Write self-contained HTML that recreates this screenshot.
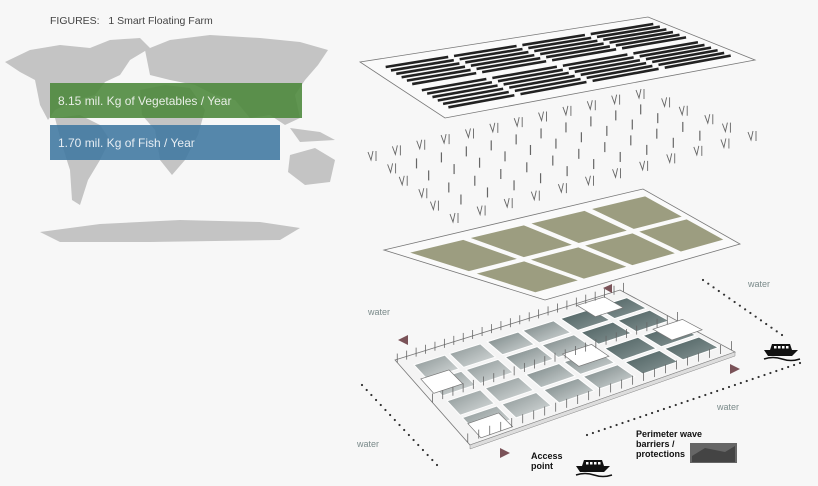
<!DOCTYPE html>
<html><head><meta charset="utf-8"><style>
html,body{margin:0;padding:0;background:#f7f7f7;}
svg{display:block}
text{font-family:"Liberation Sans",Arial,sans-serif}
</style></head><body>
<svg id="s" width="818" height="486" viewBox="0 0 818 486" xmlns="http://www.w3.org/2000/svg">
<defs>
<linearGradient id="g1" x1="0" y1="0" x2="1" y2="1"><stop offset="0" stop-color="#6f7c7c"/><stop offset="1" stop-color="#d5dada"/></linearGradient>
<linearGradient id="g2" x1="0" y1="0" x2="1" y2="1"><stop offset="0" stop-color="#4a5e5e"/><stop offset="1" stop-color="#8a9898"/></linearGradient>
</defs>
<rect width="818" height="486" fill="#f7f7f7"/>
<g fill="#c4c4c4">
<path d="M5,62 L30,50 L60,45 L90,48 L110,40 L140,38 L150,48 L130,60 L120,75 L105,82 L95,95 L75,100 L55,110 L48,120 L40,105 L35,80 L20,72 Z"/>
<path d="M55,118 L80,115 L100,125 L110,140 L100,160 L88,180 L80,205 L72,200 L70,170 L62,145 Z"/>
<path d="M145,50 L170,40 L210,35 L260,38 L300,42 L328,50 L318,65 L305,80 L295,95 L300,118 L285,125 L270,115 L250,118 L235,100 L215,95 L195,85 L170,80 L150,75 Z"/>
<path d="M140,90 L165,85 L190,88 L205,110 L198,135 L185,160 L172,175 L160,160 L155,130 L142,115 Z"/>
<path d="M290,155 L315,148 L335,160 L330,182 L305,185 L288,172 Z"/>
<path d="M290,128 L320,132 L335,140 L300,142 Z"/>
<path d="M40,232 L100,224 L180,220 L260,222 L300,228 L280,240 L150,242 L60,242 Z"/>
</g>
<rect x="50" y="83" width="252" height="35" fill="#4f8a3e" opacity="0.9"/>
<rect x="50" y="125" width="230" height="35" fill="#3f77a0" opacity="0.88"/>
<text x="58" y="105" font-size="12" fill="#e8eee6">8.15 mil. Kg of Vegetables / Year</text>
<text x="58" y="147" font-size="12" fill="#e6edf3">1.70 mil. Kg of Fish / Year</text>
<text x="50" y="24" font-size="10.5" fill="#444">FIGURES:&#160;&#160;&#160;1 Smart Floating Farm</text>
<g id="dyn"></g>
<g font-size="9" fill="#7a8a8a">
<text x="368" y="315">water</text><text x="748" y="287">water</text>
<text x="717" y="410">water</text><text x="357" y="447">water</text>
</g>
<g fill="#7a5258">
<path d="M398,340 L408,335 L408,345 Z"/><path d="M603,288 L612,284 L612,293 Z"/>
<path d="M740,369 L730,364 L730,374 Z"/><path d="M510,453 L500,448 L500,458 Z"/>
</g>
<g font-size="9" font-weight="bold" fill="#111">
<text x="531" y="459">Access</text><text x="531" y="469">point</text>
<text x="636" y="437">Perimeter wave</text><text x="636" y="447">barriers /</text><text x="636" y="457">protections</text>
</g>
<rect x="690" y="443" width="47" height="20" fill="#666"/>
<path d="M692,456 L705,448 L725,452 L735,446 L735,462 L692,462Z" fill="#444"/>
</svg>
<script>
const NS="http://www.w3.org/2000/svg",G=document.getElementById("dyn");
function el(t,a){const e=document.createElementNS(NS,t);for(const k in a)e.setAttribute(k,a[k]);G.appendChild(e);return e;}
function Q(L,T,R,B){return (u,v)=>[L[0]*(1-u)*(1-v)+T[0]*u*(1-v)+R[0]*u*v+B[0]*(1-u)*v, L[1]*(1-u)*(1-v)+T[1]*u*(1-v)+R[1]*u*v+B[1]*(1-u)*v];}
function poly(f,u0,v0,u1,v1,a){const p=[f(u0,v0),f(u1,v0),f(u1,v1),f(u0,v1)].map(q=>q.join(",")).join(" ");a.points=p;return el("polygon",a);}
function dots(x0,y0,x1,y1,n){for(let i=0;i<=n;i++)el("circle",{cx:x0+(x1-x0)*i/n,cy:y0+(y1-y0)*i/n,r:1.1,fill:"#333"});}
dots(362,385,437,465,16);dots(703,280,782,335,15);dots(587,435,800,363,36);
let f=Q([360,62],[648,17],[755,60],[445,118]);
poly(f,0,0,1,1,{fill:"#fafafa",stroke:"#777","stroke-width":0.8});
for(let c=0;c<4;c++)for(let r=0;r<2;r++){const u0=0.05+c*0.235,u1=u0+0.215,v0=0.1+r*0.42,v1=v0+0.37;
for(let k=0;k<6;k++){const v=v0+(v1-v0)*(k+0.5)/6;const a=f(u0,v),b=f(u1,v);el("line",{x1:a[0],y1:a[1],x2:b[0],y2:b[1],stroke:"#222","stroke-width":2.6});}}
let h=Q([372,160],[640,98],[748,140],[450,222]);
for(let i=0;i<12;i++)for(let j=0;j<6;j++){const p=h(i/11,j/5);const x=p[0]+(j%2)*4,y=p[1];
if(j==0||j==5||i==0||i==11){el("path",{d:`M${x-4},${y-8} L${x-1},${y} L${x+1},${y-9} M${x+4},${y-9} L${x+4},${y+1}`,stroke:"#666","stroke-width":0.9,fill:"none"});}
else el("line",{x1:x,y1:y-8,x2:x,y2:y+2,stroke:"#666","stroke-width":1.2});}
let g=Q([384,250],[643,189],[740,244],[545,300]);
poly(g,0,0,1,1,{fill:"#fafafa",stroke:"#777","stroke-width":0.8});
for(let c=0;c<4;c++)for(let r=0;r<2;r++){const u0=0.04+c*0.24,v0=0.1+r*0.42;poly(g,u0,v0,u0+0.21,v0+0.37,{fill:"#9c9d80"});}
let p=Q([395,360],[620,290],[735,352],[470,445]);
poly(p,0,0,1,1,{fill:"#f4f4f4",stroke:"#777","stroke-width":0.8});
const e1=p(0,1),e2=p(1,1);el("polygon",{points:`${e1[0]},${e1[1]} ${e2[0]},${e2[1]} ${e2[0]},${e2[1]+4} ${e1[0]},${e1[1]+4}`,fill:"#ddd",stroke:"#888","stroke-width":0.5});
for(let c=0;c<6;c++)for(let r=0;r<4;r++){const u0=0.05+c*0.155+(c>>1)*0.01,v0=0.1+r*0.2+(r>>1)*0.03;
const shade=c<4?"url(#g1)":"url(#g2)";
poly(p,u0,v0,u0+0.135,v0+0.17,{fill:shade,stroke:"#fff","stroke-width":1,opacity:c<2?0.8:(c<4?0.95:1)});}
[[0.03,0.25],[0.05,0.8],[0.55,0.45],[0.8,0.02],[0.9,0.5]].forEach(b=>{
poly(p,b[0],b[1],b[0]+0.12,b[1]+0.17,{fill:"#fff",stroke:"#777","stroke-width":0.7});});
for(let i=0;i<=24;i++){for(const v of [0.03,0.5,0.97]){const q=p(i/24,v);el("line",{x1:q[0],y1:q[1],x2:q[0],y2:q[1]-9,stroke:"#666","stroke-width":0.8});}}
function boat(x,y){el("path",{d:`M${x-18},${y} L${x+16},${y} L${x+10},${y+6} L${x-14},${y+6}Z M${x-12},${y} L${x-10},${y-6} L${x+8},${y-6} L${x+10},${y}Z`,fill:"#111"});
for(let k=0;k<4;k++)el("rect",{x:x-8+k*4,y:y-4,width:2.5,height:2.5,fill:"#fff"});
el("path",{d:`M${x-18},${y+9} q9,-3 18,0 t18,0`,stroke:"#111","stroke-width":1.5,fill:"none"});}
boat(782,350);boat(594,466);
</script>
</body></html>
